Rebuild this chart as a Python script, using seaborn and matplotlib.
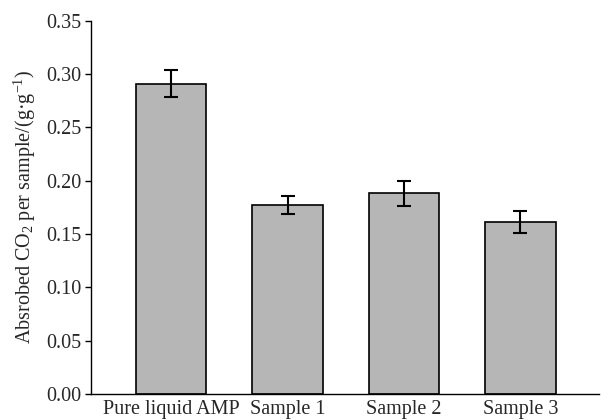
import matplotlib
matplotlib.use("Agg")
import matplotlib.pyplot as plt
import pandas as pd
import seaborn as sns

# values
samples = ["Pure liquid AMP", "Sample 1", "Sample 2", "Sample 3"]
absorbed = [0.291, 0.177, 0.188, 0.161]
errors = [0.0125, 0.0085, 0.0115, 0.0105]
y_ticks = [0.00, 0.05, 0.10, 0.15, 0.20, 0.25, 0.30, 0.35]

df = pd.DataFrame({"Sample": samples, "Absorbed": absorbed})

sns.set_theme(style="ticks")
plt.rcParams["font.family"] = ["Liberation Serif", "DejaVu Serif"]
plt.rcParams["mathtext.fontset"] = "custom"
plt.rcParams["mathtext.rm"] = "Liberation Serif"
plt.rcParams["mathtext.it"] = "Liberation Serif:italic"

FS = 14.5

fig = plt.figure(figsize=(6.01, 4.20), dpi=100)
ax = fig.add_axes([0.1514, 0.062, 0.846, 0.889])

sns.barplot(data=df, x="Sample", y="Absorbed", color="#b6b6b6",
            edgecolor="black", linewidth=1.2, width=0.605,
            saturation=1, errorbar=None, ax=ax)
ax.errorbar(range(len(samples)), absorbed, yerr=errors, fmt="none",
            ecolor="black", elinewidth=1.5, capsize=4.8, capthick=1.5)

ax.set_xlim(-0.69, 3.68)
ax.set_ylim(0, 0.35)
ax.set_yticks(y_ticks)
ax.set_yticklabels([f"{t:.2f}" for t in y_ticks])
ax.set_xlabel("")
ax.set_ylabel("Absrobed CO$_2$ per sample/(g·g$^{-1}$)", fontsize=FS,
              labelpad=6)
ax.tick_params(axis="y", direction="out", length=4, width=1, pad=3,
               labelsize=FS, color="black")
ax.tick_params(axis="x", length=0, pad=4, labelsize=FS)
for side in ["top", "right"]:
    ax.spines[side].set_visible(False)
for side in ["left", "bottom"]:
    ax.spines[side].set_color("black")
    ax.spines[side].set_linewidth(1.0)

fig.savefig("out.png", dpi=100)
